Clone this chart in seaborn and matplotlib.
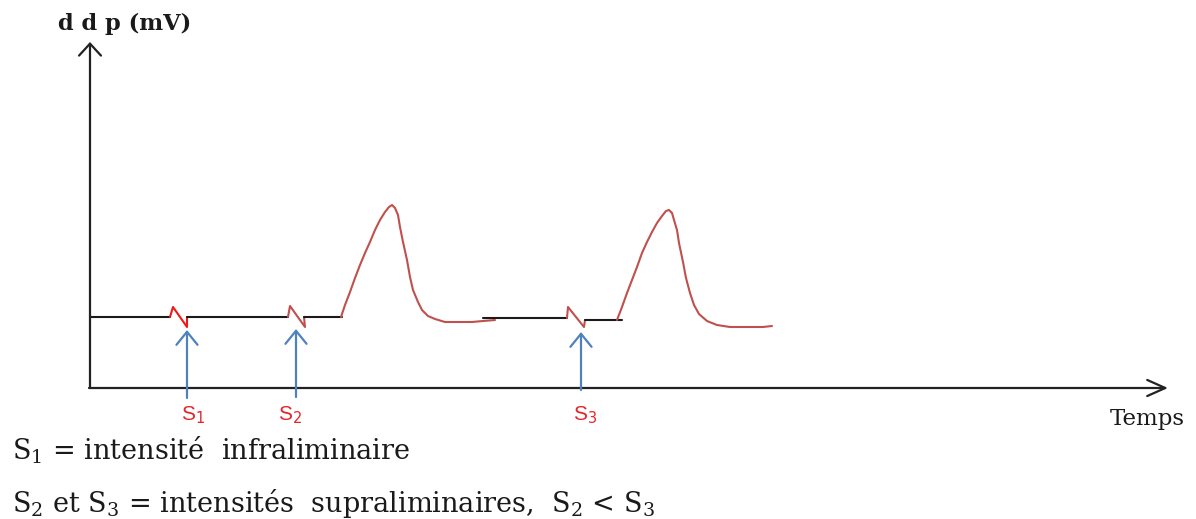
import matplotlib
matplotlib.use("Agg")
import matplotlib.pyplot as plt
import seaborn as sns

sns.set_theme(style="white")
plt.rcParams["font.family"] = ["DejaVu Serif"]
plt.rcParams["mathtext.fontset"] = "dejavuserif"

# --- membrane potential trace (time units, potential units above the time axis) ---
rest_1 = [0, 80]
rest_1_v = [71, 71]
artefact_s1_t = [80, 83, 97, 97]
artefact_s1_v = [71, 81, 61, 71]
rest_2 = [97, 198]
rest_2_v = [71, 71]
artefact_s2_t = [198, 200, 215, 214]
artefact_s2_v = [71, 82, 61, 71]
rest_3 = [214, 252]
rest_3_v = [71, 71]

spike_1_t = [251, 255, 260, 265, 270, 275, 280, 285, 290, 295, 299, 302, 305, 308,
             310, 313, 317, 320, 323, 328, 332, 338, 345, 355, 368, 382, 393, 405]
spike_1_v = [71, 83, 96, 110, 123, 135, 146, 158, 168, 176, 181, 183, 180, 173,
             161, 146, 128, 111, 98, 86, 78, 72, 69, 66, 66, 66, 67, 68]

rest_4 = [393, 477]
rest_4_v = [70, 70]
artefact_s3_t = [477, 478, 494, 495]
artefact_s3_v = [70, 81, 61, 68]
rest_5 = [495, 532]
rest_5_v = [68, 68]

spike_2_t = [527, 532, 537, 542, 547, 552, 557, 562, 567, 572, 576, 579, 582, 584,
             587, 589, 593, 596, 600, 604, 609, 617, 627, 640, 657, 673, 682]
spike_2_v = [68, 81, 95, 108, 121, 135, 146, 156, 165, 172, 177, 178, 175, 168,
             158, 145, 126, 110, 95, 83, 74, 67, 63, 61, 61, 61, 62]

# stimuli
stim_names = ["1", "2", "3"]
stim_t = [97, 206, 491]
stim_tip = [58, 59, 56]
stim_base = [-10, -9, -2]
stim_label_t = [103, 200, 495]

axis_end_t = 1078
axis_end_v = 346

fig = plt.figure(figsize=(11.96, 5.19), dpi=100)
ax = fig.add_axes([0, 0, 1, 1])
ax.set_xlim(-90, 1106)
ax.set_ylim(-131, 388)
ax.axis("off")

black = "#1a1a1a"
trace_red = "#c0504d"
bright_red = "#f01818"
blue = "#4f81bd"

segments = [
    (rest_1, rest_1_v, black),
    (artefact_s1_t, artefact_s1_v, bright_red),
    (rest_2, rest_2_v, black),
    (artefact_s2_t, artefact_s2_v, trace_red),
    (rest_3, rest_3_v, black),
    (rest_4, rest_4_v, black),
    (spike_1_t, spike_1_v, trace_red),
    (artefact_s3_t, artefact_s3_v, trace_red),
    (rest_5, rest_5_v, black),
    (spike_2_t, spike_2_v, trace_red),
]
for t, v, c in segments:
    sns.lineplot(x=t, y=v, sort=False, estimator=None, color=c, lw=1.5, ax=ax)

# axes drawn as arrows
ax.annotate("", xy=(0, axis_end_v), xytext=(0, 0),
            arrowprops=dict(arrowstyle="->,head_length=0.86,head_width=0.79",
                            lw=1.6, color="#222222", shrinkA=0, shrinkB=0,
                            mutation_scale=10))
ax.annotate("", xy=(axis_end_t, 0), xytext=(-1, 0),
            arrowprops=dict(arrowstyle="->,head_length=1.3,head_width=0.58",
                            lw=1.6, color="#222222", shrinkA=0, shrinkB=0,
                            mutation_scale=10))

# stimulus arrows and labels
for name, t, tip, base, lt in zip(stim_names, stim_t, stim_tip, stim_base, stim_label_t):
    ax.annotate("", xy=(t, tip), xytext=(t, base),
                arrowprops=dict(arrowstyle="->,head_length=0.94,head_width=0.76",
                                lw=1.6, color=blue, shrinkA=0, shrinkB=0,
                                mutation_scale=10))
    ax.text(lt, -32, "S$_{%s}$" % name, color="#e3262c", fontsize=15,
            family="Liberation Sans", math_fontfamily="dejavusans",
            ha="center", va="baseline")

ax.text(-32, 358, "d d p (mV)", fontsize=16.2, fontweight="bold", color=black,
        ha="left", va="baseline")
ax.text(1020, -37, "Temps", fontsize=16.5, color=black, ha="left", va="baseline")

ax.text(-78, -72, "S$_1$ = intensité  infraliminaire", fontsize=19.5, color=black,
        ha="left", va="baseline")
ax.text(-78, -124, "S$_2$ et S$_3$ = intensités  supraliminaires,  S$_2$ < S$_3$",
        fontsize=19.5, color=black, ha="left", va="baseline")

fig.savefig("out.png", dpi=100)
